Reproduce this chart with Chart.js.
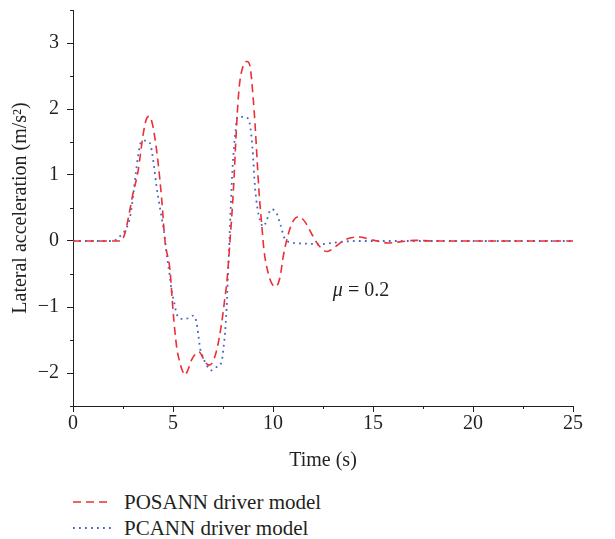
<!DOCTYPE html>
<html>
<head>
<meta charset="utf-8">
<script src="https://cdn.jsdelivr.net/npm/chart.js@4.4.0/dist/chart.umd.min.js"></script>
<style>
  body { margin: 0; background: #fff; }
  #wrap { position: relative; width: 615px; height: 539px; }
  #box { position: absolute; left: 0; top: 0; width: 615px; height: 480px; }
  .leg { position: absolute; left: 73px; height: 24px; display: flex; align-items: center;
         font: 21px 'Liberation Serif', 'Times New Roman', serif; color: #231f20; white-space: nowrap; }
  .leg svg { margin-right: 13px; }
</style>
</head>
<body>
<div id="wrap">
  <div id="box"><canvas id="chart"></canvas></div>
  <div class="leg" id="leg0" style="top:490px"></div>
  <div class="leg" id="leg1" style="top:516px"></div>
</div>
<script>
// Datos (tiempo en s, aceleración lateral en m/s^2)
const tiempoPOSANN = [0, 2.4, 2.6, 2.8, 3.0, 3.25, 3.5, 3.65, 3.8, 3.95, 4.1, 4.25, 4.43, 4.6, 4.85, 5.0,
  5.18, 5.35, 5.45, 5.6, 5.75, 5.93, 6.1, 6.3, 6.45, 6.6, 6.8, 6.95, 7.18, 7.43, 7.6, 7.7, 7.85, 8.02,
  8.18, 8.3, 8.5, 8.7, 8.85, 9.0, 9.1, 9.3, 9.45, 9.55, 9.77, 9.95, 10.15, 10.35, 10.52, 10.77, 11.02,
  11.3, 11.6, 11.93, 12.27, 12.7, 13.02, 13.4, 13.8, 14.3, 14.8, 15.2, 15.75, 16.4, 17.1, 18, 25];
const aceleracionPOSANN = [0, 0, 0.12, 0.4, 0.72, 1.05, 1.6, 1.83, 1.89, 1.8, 1.55, 1.2, 0.65, 0.0, -0.44, -1.05,
  -1.6, -1.85, -1.95, -2.03, -1.95, -1.8, -1.72, -1.68, -1.74, -1.83, -1.88, -1.85, -1.66, -1.25, -0.85, -0.6, 0, 0.77,
  1.75, 2.3, 2.65, 2.72, 2.65, 2.2, 1.78, 0.75, 0.2, -0.14, -0.5, -0.65, -0.69, -0.55, -0.22, 0.11, 0.31,
  0.37, 0.29, 0.11, -0.06, -0.16, -0.11, -0.02, 0.04, 0.06, 0.03, 0.0, -0.03, -0.01, 0.01, 0, 0];

const tiempoPCANN = [0, 2.0, 2.3, 2.6, 2.85, 3.02, 3.15, 3.27, 3.4, 3.57, 3.85, 4.02, 4.18, 4.3, 4.43, 4.55,
  4.68, 4.82, 4.93, 5.05, 5.18, 5.43, 5.77, 6.02, 6.15, 6.27, 6.35, 6.45, 6.68, 6.93, 7.18, 7.43, 7.52,
  7.6, 7.68, 7.75, 7.82, 7.88, 7.97, 8.05, 8.13, 8.22, 8.6, 8.82, 8.97, 9.1, 9.22, 9.35, 9.52, 9.68, 9.9,
  10.18, 10.38, 10.55, 10.85, 11.7, 12.3, 13.2, 14.1, 25];
const aceleracionPCANN = [0, 0, 0.06, 0.16, 0.36, 0.72, 1.05, 1.32, 1.5, 1.52, 1.48, 1.2, 0.82, 0.59, 0.36, 0.14,
  -0.19, -0.49, -0.75, -0.92, -1.1, -1.18, -1.17, -1.13, -1.2, -1.43, -1.62, -1.72, -1.88, -1.96, -1.91, -1.83, -1.63,
  -1.4, -1.02, -0.5, 0, 0.47, 1.07, 1.42, 1.68, 1.88, 1.88, 1.8, 1.42, 0.82, 0.5, 0.31, 0.22, 0.31, 0.48,
  0.42, 0.24, 0.06, -0.02, -0.04, -0.05, -0.02, 0, 0];

const ticksX = [0, 5, 10, 15, 20, 25];
const ticksXMenores = [2.5, 7.5, 12.5, 17.5, 22.5];
const ticksY = [-2, -1, 0, 1, 2, 3];
const ticksYMenores = [-2.5, -1.5, -0.5, 0.5, 1.5, 2.5, 3.5];

const etiquetas = ['POSANN driver model', 'PCANN driver model'];
const anotacion = { x: 14.4, y: -0.75, simbolo: 'μ', texto: ' = 0.2' };

const fuente = "'Liberation Serif', 'Times New Roman', serif";
const negro = '#231f20';

function puntos(ts, vs) {
  return ts.map((t, i) => ({ x: t, y: vs[i] }));
}

// ticks menores y la etiqueta mu
const extras = {
  id: 'extras',
  afterDraw(chart) {
    const { ctx, chartArea, scales } = chart;
    ctx.save();
    ctx.strokeStyle = negro;
    ctx.lineWidth = 1;
    ctx.beginPath();
    ticksYMenores.forEach(v => {
      const y = Math.round(scales.y.getPixelForValue(v)) + 0.5;
      ctx.moveTo(chartArea.left - 3, y);
      ctx.lineTo(chartArea.left, y);
    });
    ticksXMenores.forEach(v => {
      const x = Math.round(scales.x.getPixelForValue(v)) + 0.5;
      ctx.moveTo(x, chartArea.bottom);
      ctx.lineTo(x, chartArea.bottom + 3);
    });
    ctx.stroke();

    const px = scales.x.getPixelForValue(anotacion.x);
    const py = scales.y.getPixelForValue(anotacion.y);
    ctx.fillStyle = negro;
    ctx.textBaseline = 'middle';
    ctx.font = 'italic 20px ' + fuente;
    const w1 = ctx.measureText(anotacion.simbolo).width;
    ctx.font = '20px ' + fuente;
    const w2 = ctx.measureText(anotacion.texto).width;
    const x0 = px - (w1 + w2) / 2;
    ctx.font = 'italic 20px ' + fuente;
    ctx.textAlign = 'left';
    ctx.fillText(anotacion.simbolo, x0, py);
    ctx.font = '20px ' + fuente;
    ctx.fillText(anotacion.texto, x0 + w1, py);
    ctx.restore();
  }
};

Chart.defaults.font.family = fuente;
Chart.defaults.color = negro;

const ctx = document.getElementById('chart').getContext('2d');

const chart = new Chart(ctx, {
  type: 'line',
  data: {
    datasets: [
      {
        label: etiquetas[0],
        data: puntos(tiempoPOSANN, aceleracionPOSANN),
        borderColor: '#ec2f35',
        borderWidth: 1.6,
        borderDash: [8, 5],
        pointRadius: 0,
        cubicInterpolationMode: 'monotone',
        fill: false,
      },
      {
        label: etiquetas[1],
        data: puntos(tiempoPCANN, aceleracionPCANN),
        borderColor: '#4466c2',
        borderWidth: 1.8,
        borderDash: [1.8, 4.2],
        pointRadius: 0,
        cubicInterpolationMode: 'monotone',
        fill: false,
      }
    ]
  },
  options: {
    responsive: true,
    maintainAspectRatio: false,
    animation: false,
    layout: { padding: { top: 10, right: 42, bottom: 0, left: 0 } },
    scales: {
      x: {
        type: 'linear',
        min: 0,
        max: 25,
        afterBuildTicks: (s) => { s.ticks = ticksX.map(v => ({ value: v })); },
        afterFit: (s) => { s.height = 74; s.paddingLeft = 0; s.paddingRight = 0; },
        grid: { display: true, drawOnChartArea: false, drawTicks: true, tickLength: 6, color: negro, lineWidth: 1 },
        border: { display: true, color: negro, width: 1 },
        ticks: { font: { size: 20 }, padding: 0, maxRotation: 0, color: negro },
        title: { display: true, text: 'Time (s)', font: { size: 20 }, padding: { top: 0, bottom: 7 }, color: negro }
      },
      y: {
        type: 'linear',
        min: -2.5,
        max: 3.5,
        afterBuildTicks: (s) => { s.ticks = ticksY.map(v => ({ value: v })); },
        afterFit: (s) => { s.width = 73; s.paddingTop = 0; s.paddingBottom = 0; },
        grid: { display: true, drawOnChartArea: false, drawTicks: true, tickLength: 6, color: negro, lineWidth: 1 },
        border: { display: true, color: negro, width: 1 },
        ticks: {
          font: { size: 20 },
          padding: 8,
          color: negro,
          callback: (v) => String(v).replace('-', '\u2212')
        },
        title: { display: true, text: 'Lateral acceleration (m/s²)', font: { size: 20 }, padding: { top: 9, bottom: 0 }, color: negro }
      }
    },
    plugins: {
      legend: { display: false },
      tooltip: { enabled: false }
    }
  },
  plugins: [extras]
});

// leyenda en HTML, debajo del gráfico
chart.data.datasets.forEach((ds, i) => {
  const div = document.getElementById('leg' + i);
  const dash = ds.borderDash.join(' ');
  div.innerHTML = '<svg width="38" height="6"><line x1="0" y1="3" x2="38" y2="3" stroke="' + ds.borderColor +
    '" stroke-width="' + ds.borderWidth + '" stroke-dasharray="' + dash + '"/></svg>';
  const span = document.createElement('span');
  span.textContent = ds.label;
  div.appendChild(span);
});
</script>
</body>
</html>
